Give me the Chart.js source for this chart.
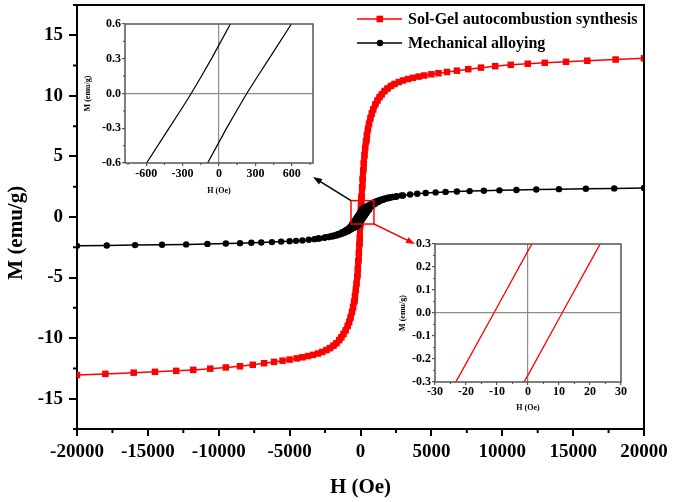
<!DOCTYPE html>
<html>
<head>
<meta charset="utf-8">
<script src="https://cdn.jsdelivr.net/npm/chart.js@4.4.0/dist/chart.umd.min.js"></script>
<style>
  html, body { margin: 0; padding: 0; background: #fff; }
  #wrap { position: relative; width: 675px; height: 502px; }
  #main { position: absolute; left: 0; top: 0; }
  #inset1 { position: absolute; left: 80px; top: 15px; }
  #inset2 { position: absolute; left: 395px; top: 235px; }
</style>
</head>
<body>
<div id="wrap">
  <canvas id="main" width="675" height="502"></canvas>
  <canvas id="inset1" width="240" height="185"></canvas>
  <canvas id="inset2" width="233" height="180"></canvas>
</div>
<script>
/* ── M-H hysteresis loops, H in Oe, M in emu/g ─────────────────── */

Chart.defaults.font.family = "'Liberation Serif', 'Times New Roman', serif";
Chart.defaults.font.weight = 'bold';
Chart.defaults.color = '#000';

// Sol-Gel autocombustion, ascending branch
const redH = [-20000, -18000, -16000, -14500, -13000, -11800, -10600, -9500, -8500, -7600,
  -6800, -6100, -5500, -5000, -4500, -4100, -3700, -3350, -3000, -2700,
  -2400, -2150, -1900, -1700, -1500, -1350, -1200, -1050, -900, -800,
  -700, -600, -525, -450, -390, -330, -280, -230, -190, -150,
  -115, -80, -50, -20, 0, 11, 20, 50, 80, 115,
  150, 190, 230, 280, 330, 390, 450, 525, 600, 700,
  800, 900, 1050, 1200, 1350, 1500, 1700, 1900, 2150, 2400,
  2700, 3000, 3350, 3700, 4100, 4500, 5000, 5500, 6100, 6800,
  7600, 8500, 9500, 10600, 11800, 13000, 14500, 16000, 18000, 20000];
const redM = [-13.05, -12.95, -12.85, -12.78, -12.70, -12.62, -12.52, -12.42, -12.32, -12.20,
  -12.07, -11.96, -11.86, -11.77, -11.67, -11.58, -11.48, -11.38, -11.27, -11.14,
  -10.98, -10.82, -10.62, -10.42, -10.16, -9.93, -9.66, -9.36, -8.98, -8.68,
  -8.30, -7.85, -7.45, -6.98, -6.52, -6.00, -5.50, -4.90, -4.30, -3.60,
  -2.95, -2.25, -1.70, -0.74, -0.27, 0, 0.22, 0.95, 1.70, 2.45,
  3.15, 3.85, 4.45, 5.10, 5.70, 6.25, 6.75, 7.25, 7.70, 8.15,
  8.55, 8.88, 9.30, 9.62, 9.90, 10.12, 10.40, 10.60, 10.82, 10.98,
  11.14, 11.27, 11.39, 11.49, 11.59, 11.68, 11.78, 11.87, 11.97, 12.08,
  12.20, 12.33, 12.45, 12.56, 12.65, 12.73, 12.81, 12.90, 13.00, 13.10];
// Sol-Gel, descending branch near the origin
const redDownH = [-50, -20, -11, 0, 20, 50];
const redDownM = [-0.95, -0.22, 0, 0.27, 0.74, 1.70];

// Mechanical alloying, ascending branch
const blackH = [-20000, -17900, -15900, -14000, -12300, -10800, -9500, -8500, -7700, -7000,
  -6250, -5600, -5000, -4550, -4100, -3650, -3250, -2900, -2550, -2250,
  -1950, -1700, -1450, -1250, -1050, -850, -650, -450, -300, -150,
  -94, 0, 57, 150, 229, 316, 425, 597, 800, 1000,
  1300, 1600, 2000, 2500, 3000, 3500, 4000, 4600, 5300, 6000,
  6800, 7700, 8700, 9800, 11000, 12400, 14000, 15900, 17900, 20000];
const blackM = [-2.38, -2.35, -2.32, -2.29, -2.26, -2.22, -2.19, -2.16, -2.13, -2.10,
  -2.07, -2.03, -2.00, -1.97, -1.93, -1.88, -1.83, -1.78, -1.72, -1.66,
  -1.59, -1.52, -1.43, -1.35, -1.26, -1.15, -1.01, -0.88, -0.80, -0.69,
  -0.60, -0.42, -0.31, -0.14, 0, 0.145, 0.32, 0.60, 0.90, 1.07,
  1.27, 1.43, 1.56, 1.68, 1.78, 1.86, 1.92, 1.98, 2.03, 2.07,
  2.11, 2.14, 2.17, 2.20, 2.23, 2.27, 2.30, 2.33, 2.36, 2.40];
// Mechanical alloying, descending branch near the origin
const blackDownH = [-3000, -2500, -2000, -1600, -1300, -1000, -800, -597, -425, -316,
  -229, -150, -57, 0, 94, 150, 300, 450, 650, 850,
  1050, 1250, 1450, 1700, 1950, 2250, 2550, 2900];
const blackDownM = [-1.78, -1.68, -1.56, -1.43, -1.27, -1.07, -0.90, -0.60, -0.32, -0.145,
  0, 0.14, 0.31, 0.42, 0.60, 0.69, 0.80, 0.88, 1.01, 1.15,
  1.26, 1.35, 1.43, 1.52, 1.59, 1.66, 1.72, 1.78];

// tick values
const mainXTicks = [-20000, -15000, -10000, -5000, 0, 5000, 10000, 15000, 20000];
const mainXMinor = [-17500, -12500, -7500, -2500, 2500, 7500, 12500, 17500];
const mainYTicks = [-15, -10, -5, 0, 5, 10, 15];
const mainYMinor = [-17.5, -12.5, -7.5, -2.5, 2.5, 7.5, 12.5, 17.5];
const inset1XTicks = [-600, -300, 0, 300, 600];
const inset1XMinor = [-750, -450, -150, 150, 450, 750];
const inset1YTicks = [-0.6, -0.3, 0, 0.3, 0.6];
const inset1YMinor = [-0.45, -0.15, 0.15, 0.45];
const inset2XTicks = [-30, -20, -10, 0, 10, 20, 30];
const inset2XMinor = [-25, -15, -5, 5, 15, 25];
const inset2YTicks = [-0.3, -0.2, -0.1, 0, 0.1, 0.2, 0.3];
const inset2YMinor = [-0.25, -0.15, -0.05, 0.05, 0.15, 0.25];

const RED = '#ff0000';
const BLACK = '#000000';

const pts = (hs, ms) => hs.map((h, i) => ({ x: h, y: ms[i] }));
const near = (hs, ms, lim) => pts(hs, ms).filter(p => Math.abs(p.x) <= lim);

// zoomed region marked on the main plot and where the arrows point (data units)
const zoomBox = { h0: -670, h1: 950, m0: -0.58, m1: 1.35 };
const blackTip = { h: -3350, m: 3.3 };
const redTip = { h: 3850, m: -2.23 };


function lineSet(data, color, width, extra) {
  return Object.assign({
    data: data, showLine: true, borderColor: color, backgroundColor: color,
    borderWidth: width, pointRadius: 0, tension: 0, borderJoinStyle: 'round', borderCapStyle: 'round',
  }, extra || {});
}

function scale(o) {
  return {
    min: o.min, max: o.max,
    afterBuildTicks: s => { s.ticks = o.ticks.map(v => ({ value: v })); },
    afterFit: s => {
      if (o.isX) s.height = o.box; else s.width = o.box;
      s.paddingTop = 0; s.paddingBottom = 0; s.paddingLeft = 0; s.paddingRight = 0;
    },
    grid: o.grid,
    border: o.border || { display: false },
    ticks: {
      font: { size: o.size, weight: 'bold' }, color: '#000', padding: o.pad,
      maxRotation: 0, autoSkip: false, callback: o.fmt,
    },
    title: {
      display: true, text: o.title, color: '#000',
      font: { size: o.titleSize, weight: 'bold' }, padding: o.titlePad,
    },
  };
}

function minorTicks(xMinor, yMinor, len, color, width) {
  return {
    id: 'minorTicks',
    afterDraw(chart) {
      const { ctx, chartArea: a, scales: { x, y } } = chart;
      ctx.save();
      ctx.strokeStyle = color;
      ctx.lineWidth = width;
      ctx.beginPath();
      xMinor.forEach(v => {
        const px = x.getPixelForValue(v);
        ctx.moveTo(px, a.bottom); ctx.lineTo(px, a.bottom + len);
      });
      yMinor.forEach(v => {
        const py = y.getPixelForValue(v);
        ctx.moveTo(a.left, py); ctx.lineTo(a.left - len, py);
      });
      ctx.stroke();
      ctx.restore();
    }
  };
}

function arrow(ctx, x0, y0, x1, y1, color) {
  const ang = Math.atan2(y1 - y0, x1 - x0);
  const L = 9, W = 3.2;
  ctx.save();
  ctx.strokeStyle = color; ctx.fillStyle = color; ctx.lineWidth = 1.5;
  ctx.beginPath();
  ctx.moveTo(x0, y0);
  ctx.lineTo(x1 - Math.cos(ang) * L * 0.8, y1 - Math.sin(ang) * L * 0.8);
  ctx.stroke();
  ctx.beginPath();
  ctx.moveTo(x1, y1);
  ctx.lineTo(x1 - Math.cos(ang) * L - Math.sin(ang) * W, y1 - Math.sin(ang) * L + Math.cos(ang) * W);
  ctx.lineTo(x1 - Math.cos(ang) * L + Math.sin(ang) * W, y1 - Math.sin(ang) * L - Math.cos(ang) * W);
  ctx.closePath();
  ctx.fill();
  ctx.restore();
}

// top/right frame, legend, zoom box and arrows
const mainDecor = {
  id: 'mainDecor',
  afterDraw(chart) {
    const { ctx, chartArea: a, scales: { x, y } } = chart;
    ctx.save();
    ctx.strokeStyle = '#000';
    ctx.lineWidth = 2;
    ctx.beginPath();
    ctx.moveTo(a.left, a.top); ctx.lineTo(a.right, a.top); ctx.lineTo(a.right, a.bottom);
    ctx.stroke();

    // legend
    const rows = [
      { label: 'Sol-Gel autocombustion synthesis', color: RED, shape: 'rect', y: 19 },
      { label: 'Mechanical alloying', color: BLACK, shape: 'circle', y: 43 },
    ];
    rows.forEach(r => {
      ctx.strokeStyle = r.color; ctx.fillStyle = r.color; ctx.lineWidth = 1.5;
      ctx.beginPath(); ctx.moveTo(357, r.y); ctx.lineTo(402, r.y); ctx.stroke();
      if (r.shape === 'rect') ctx.fillRect(376.5, r.y - 3.3, 6.6, 6.6);
      else { ctx.beginPath(); ctx.arc(380, r.y, 3.2, 0, Math.PI * 2); ctx.fill(); }
      ctx.fillStyle = '#000';
      ctx.font = "bold 16px 'Liberation Serif', serif";
      ctx.textBaseline = 'middle';
      ctx.fillText(r.label, 408, r.y + 0.5);
    });

    // zoom box
    const bx0 = x.getPixelForValue(zoomBox.h0), bx1 = x.getPixelForValue(zoomBox.h1);
    const by0 = y.getPixelForValue(zoomBox.m1), by1 = y.getPixelForValue(zoomBox.m0);
    ctx.strokeStyle = RED; ctx.lineWidth = 1.5;
    ctx.strokeRect(bx0, by0, bx1 - bx0, by1 - by0);
    ctx.restore();

    arrow(ctx, bx0, by0, x.getPixelForValue(blackTip.h), y.getPixelForValue(blackTip.m), BLACK);
    arrow(ctx, bx1, by1, x.getPixelForValue(redTip.h), y.getPixelForValue(redTip.m), RED);
  }
};

const insetFrame = {
  id: 'insetFrame',
  afterDraw(chart) {
    const { ctx, chartArea: a } = chart;
    ctx.save();
    ctx.strokeStyle = '#555';
    ctx.lineWidth = 1.5;
    ctx.strokeRect(a.left, a.top, a.right - a.left, a.bottom - a.top);
    ctx.restore();
  }
};


/* ── main plot ─────────────────────────────────────────────────── */
const mainGrid = { drawOnChartArea: false, drawTicks: true, color: '#000', lineWidth: 2 };

new Chart(document.getElementById('main'), {
  type: 'scatter',
  data: {
    datasets: [
      lineSet(near(blackH, blackM, 2500), BLACK, 6),
      lineSet(near(blackDownH, blackDownM, 2500), BLACK, 6),
      lineSet(pts(blackH, blackM), BLACK, 1.5,
        { pointRadius: 3.2, pointStyle: 'circle', pointBackgroundColor: BLACK, pointBorderColor: BLACK, pointBorderWidth: 0 }),
      lineSet(pts(blackDownH, blackDownM), BLACK, 1.5,
        { pointRadius: 3.2, pointStyle: 'circle', pointBackgroundColor: BLACK, pointBorderColor: BLACK, pointBorderWidth: 0 }),
      lineSet(near(redH, redM, 2400), RED, 6),
      lineSet(pts(redDownH, redDownM), RED, 6),
      lineSet(pts(redH, redM), RED, 1.5,
        { pointRadius: 4.6, pointStyle: 'rect', pointBackgroundColor: RED, pointBorderColor: RED, pointBorderWidth: 0 }),
    ]
  },
  options: {
    responsive: false,
    animation: false,
    layout: { padding: { top: 5, right: 31, left: 0, bottom: 0 } },
    plugins: { legend: { display: false }, tooltip: { enabled: false } },
    scales: {
      x: scale({
        isX: true, min: -20000, max: 20000, ticks: mainXTicks, box: 73, size: 19, pad: 5,
        fmt: v => String(v), title: 'H (Oe)', titleSize: 21, titlePad: { top: 0, bottom: 2 },
        grid: Object.assign({ tickLength: 7 }, mainGrid), border: { display: true, color: '#000', width: 2 },
      }),
      y: scale({
        isX: false, min: -17.5, max: 17.5, ticks: mainYTicks, box: 77, size: 19, pad: 6,
        fmt: v => String(v), title: 'M (emu/g)\u2002\u2002\u2002', titleSize: 21, titlePad: { top: 4, bottom: 0 },
        grid: Object.assign({ tickLength: 8 }, mainGrid), border: { display: true, color: '#000', width: 2 },
      }),
    },
  },
  plugins: [minorTicks(mainXMinor, mainYMinor, 4, '#000', 2), mainDecor],
});


/* ── insets: same loops, zoomed round the origin ───────────────── */
const insetGrid = {
  drawOnChartArea: true, drawTicks: true, tickLength: 3, lineWidth: 1.2, tickColor: '#555',
  color: c => (c.tick && c.tick.value === 0) ? '#8c8c8c' : 'transparent',
};

function makeInset(id, sets, o) {
  return new Chart(document.getElementById(id), {
    type: 'scatter',
    data: { datasets: sets },
    options: {
      responsive: false,
      animation: false,
      layout: { padding: { top: 9, right: 7, left: 0, bottom: 0 } },
      plugins: { legend: { display: false }, tooltip: { enabled: false } },
      scales: {
        x: scale({
          isX: true, min: o.xMin, max: o.xMax, ticks: o.xTicks, box: o.xBox, size: 12, pad: o.xPad,
          fmt: v => String(v), title: 'H (Oe)', titleSize: 8, titlePad: { top: 0, bottom: o.xTitlePad },
          grid: insetGrid,
        }),
        y: scale({
          isX: false, min: o.yMin, max: o.yMax, ticks: o.yTicks, box: o.yBox, size: 12, pad: 1,
          fmt: v => v.toFixed(1), title: 'M (emu/g)', titleSize: 8, titlePad: { top: 3, bottom: 0 },
          grid: insetGrid,
        }),
      },
    },
    plugins: [minorTicks(o.xMinor, o.yMinor, 2, '#555', 1.2), insetFrame],
  });
}

makeInset('inset1', [
  lineSet(pts(blackH, blackM), BLACK, 1.2, { borderJoinStyle: 'miter' }),
  lineSet(pts(blackDownH, blackDownM), BLACK, 1.2, { borderJoinStyle: 'miter' }),
], {
  xMin: -775, xMax: 775, xTicks: inset1XTicks, xMinor: inset1XMinor,
  yMin: -0.6, yMax: 0.6, yTicks: inset1YTicks, yMinor: inset1YMinor,
  xBox: 37, yBox: 45, xPad: 1, xTitlePad: 4,
});

makeInset('inset2', [
  lineSet(pts(redH, redM), RED, 1.3),
  lineSet(pts(redDownH, redDownM), RED, 1.3),
], {
  xMin: -30, xMax: 30, xTicks: inset2XTicks, xMinor: inset2XMinor,
  yMin: -0.3, yMax: 0.3, yTicks: inset2YTicks, yMinor: inset2YMinor,
  xBox: 33, yBox: 40, xPad: 0, xTitlePad: 2.5,
});
</script>
</body>
</html>
